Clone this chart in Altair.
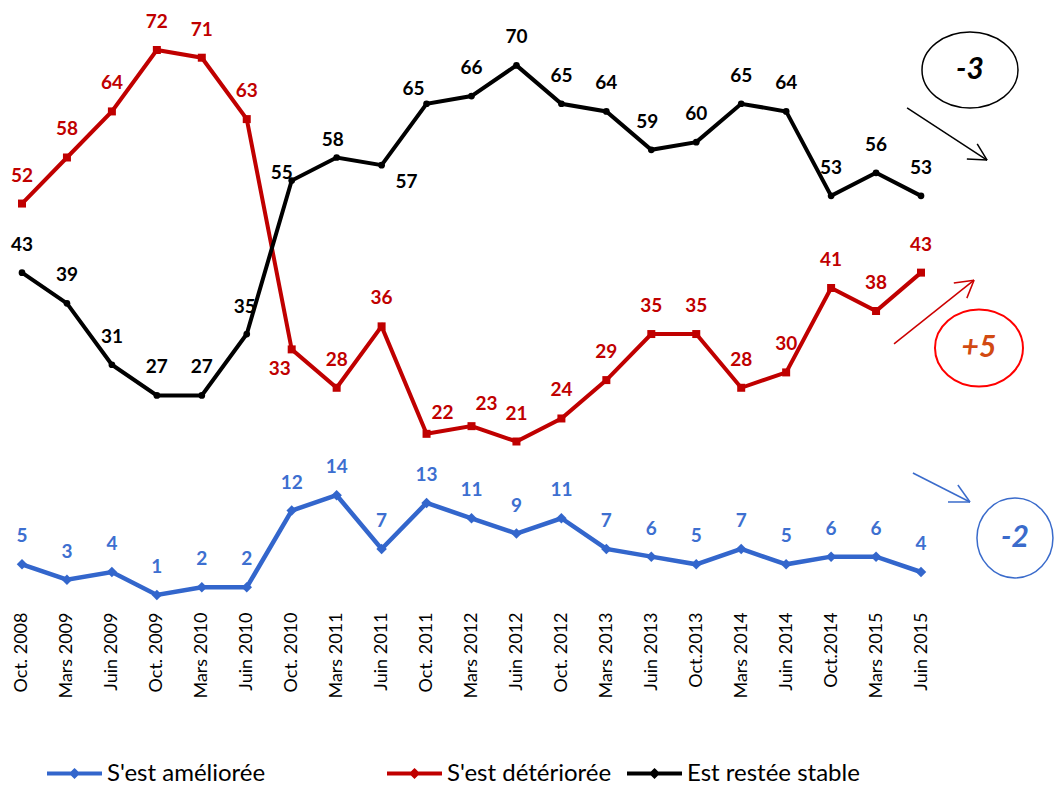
import json
import altair as alt
import pandas as pd

# ---------------- data ----------------
periods = ["Oct. 2008", "Mars 2009", "Juin 2009", "Oct. 2009", "Mars 2010", "Juin 2010",
           "Oct. 2010", "Mars 2011", "Juin 2011", "Oct. 2011", "Mars 2012", "Juin 2012",
           "Oct. 2012", "Mars 2013", "Juin 2013", "Oct.2013", "Mars 2014", "Juin 2014",
           "Oct.2014", "Mars 2015", "Juin 2015"]
ameliore = [5, 3, 4, 1, 2, 2, 12, 14, 7, 13, 11, 9, 11, 7, 6, 5, 7, 5, 6, 6, 4]
deteriore = [52, 58, 64, 72, 71, 63, 33, 28, 36, 22, 23, 21, 24, 29, 35, 35, 28, 30, 41, 38, 43]
stable = [43, 39, 31, 27, 27, 35, 55, 58, 57, 65, 66, 70, 65, 64, 59, 60, 65, 64, 53, 56, 53]
series_names = ["S'est améliorée", "S'est détériorée", "Est restée stable"]
series_keys = ["up", "down", "stable"]
series_values = [ameliore, deteriore, stable]

# ---------------- styles ----------------
LINE_COL = {"up": "#3366CC", "down": "#C00000", "stable": "#000000"}
TEXT_COL = {"up": "#3D6FD0", "down": "#C00000", "stable": "#000000"}
SHAPE = {"up": "diamond", "down": "square", "stable": "circle"}
MSIZE = {"up": 110, "down": 64, "stable": 45}
LWIDTH = {"up": 4.5, "down": 4, "stable": 4}
LEGEND_X = {"up": 37, "down": 377, "stable": 617}
FONT = "Lato"
DEFAULT_DY = -28
# label nudges (dx, dy) for labels that sit off the default spot
NUDGE = {("stable", 5): (-2, -27), ("stable", 6): (-10, -8), ("stable", 7): (-4, -17),
         ("stable", 8): (25, 17), ("stable", 9): (-13, -15), ("stable", 14): (-4, -28),
         ("down", 6): (-12, 20), ("down", 9): (16, -21), ("down", 10): (15, -22)}

rows = []
for key, name, vals in zip(series_keys, series_names, series_values):
    for i, v in enumerate(vals):
        rows.append({"key": key, "series": name, "idx": i, "value": v, "kid": f"{key}_{i}"})
df = pd.DataFrame(rows)

X_DOMAIN = [-0.31145, 22.981]
Y_DOMAIN = [-0.2996, 77.475]

label_expr = json.dumps(periods) + "[datum.value]"
X = alt.X("idx:Q",
          scale=alt.Scale(domain=X_DOMAIN, nice=False, zero=False),
          axis=alt.Axis(values=list(range(len(periods))), labelExpr=label_expr, title=None,
                        labelAngle=270, labelAlign="right", labelBaseline="middle",
                        labelFont=FONT, labelFontSize=18, labelColor="#000000",
                        labelPadding=7, domain=False, ticks=False, grid=False,
                        labelOverlap=False, labelFlush=False))
Y = alt.Y("value:Q", scale=alt.Scale(domain=Y_DOMAIN, nice=False, zero=False), axis=None)

layers = []
base = alt.Chart(df)
for key, name in zip(series_keys, series_names):
    sub = base.transform_filter(alt.FieldEqualPredicate(field="key", equal=key))
    legend = alt.Legend(title=None, orient="none", legendX=LEGEND_X[key], legendY=736,
                        symbolType="M-1,0H1M0,-0.1L0.1,0L0,0.1L-0.1,0Z", symbolSize=3025,
                        symbolStrokeWidth=4, labelFont=FONT, labelFontSize=24,
                        labelColor="#000000", labelOffset=3, padding=0, labelLimit=0)
    layers.append(sub.mark_line(strokeWidth=LWIDTH[key]).encode(
        x=X, y=Y,
        color=alt.Color("series:N", scale=alt.Scale(domain=[name], range=[LINE_COL[key]]),
                        legend=legend)))
for key in series_keys:
    sub = base.transform_filter(alt.FieldEqualPredicate(field="key", equal=key))
    layers.append(sub.mark_point(filled=True, shape=SHAPE[key], size=MSIZE[key],
                                 color=LINE_COL[key], opacity=1).encode(x=X, y=Y))

text_style = dict(font=FONT, fontSize=19, fontWeight="bold", align="center", baseline="middle")
nudged = [f"{k}_{i}" for (k, i) in NUDGE]
for key in series_keys:
    sub = base.transform_filter(alt.FieldEqualPredicate(field="key", equal=key)).transform_filter(
        "indexof(" + json.dumps(nudged) + ", datum.kid) < 0")
    layers.append(sub.mark_text(dy=DEFAULT_DY, color=TEXT_COL[key], **text_style).encode(
        x=X, y=Y, text="value:Q"))
for (key, i), (dx, dy) in NUDGE.items():
    sub = base.transform_filter(alt.FieldEqualPredicate(field="kid", equal=f"{key}_{i}"))
    layers.append(sub.mark_text(dx=dx, dy=dy, color=TEXT_COL[key], **text_style).encode(
        x=X, y=Y, text="value:Q"))

# ---------------- annotations: change since previous wave ----------------
changes = {k: vals[-1] - vals[-2] for k, vals in zip(series_keys, series_values)}
ANN = {
    "stable": dict(center=(21.09, 69.40), size=9216, ratio=0.79, stroke="#000000", sw=1.5,
                   text_col="#000000", arrow_col="#000000",
                   arrow=[(19.69, 64.45), (21.47, 57.67)], heads=[(21.02, 57.80), (21.25, 59.76)]),
    "down": dict(center=(21.29, 33.18), size=7744, ratio=0.875, stroke="#FF0000", sw=2,
                 text_col="#D24A12", arrow_col="#CC0000",
                 arrow=[(19.40, 33.71), (21.18, 42.02)], heads=[(20.73, 41.64), (21.02, 39.68)]),
    "up": dict(center=(22.09, 8.43), size=5776, ratio=1.05, stroke="#3A6BCB", sw=1.5,
               text_col="#3A6BCB", arrow_col="#3A6BCB",
               arrow=[(19.82, 16.90), (21.09, 13.12)], heads=[(20.60, 13.12), (20.82, 15.33)]),
}
X2 = alt.X2("idx2:Q")
Y2 = alt.Y2("value2:Q")
for key, a in ANN.items():
    r = a["ratio"]
    path = f"M -1 0 A 1 {r} 0 1 1 1 0 A 1 {r} 0 1 1 -1 0 Z"
    cdf = pd.DataFrame([{"idx": a["center"][0], "value": a["center"][1],
                         "label": f"{changes[key]:+d}"}])
    layers.append(alt.Chart(cdf).mark_point(shape=path, size=a["size"], filled=False,
                                            stroke=a["stroke"], strokeWidth=a["sw"],
                                            opacity=1).encode(x=X, y=Y))
    layers.append(alt.Chart(cdf).mark_text(font=FONT, fontSize=30, fontWeight="bold",
                                           fontStyle="italic", color=a["text_col"],
                                           align="center", baseline="middle").encode(
        x=X, y=Y, text="label:N"))
    (x0, y0), (x1, y1) = a["arrow"]
    segs = [{"idx": x0, "value": y0, "idx2": x1, "value2": y1}]
    for hx, hy in a["heads"]:
        segs.append({"idx": x1, "value": y1, "idx2": hx, "value2": hy})
    layers.append(alt.Chart(pd.DataFrame(segs)).mark_rule(
        color=a["arrow_col"], strokeWidth=1.5).encode(x=X, y=Y, x2=X2, y2=Y2))

chart = alt.layer(*layers).resolve_scale(color="independent").properties(
    width=1047, height=597,
    autosize=alt.AutoSizeParams(type="none"),
    padding={"left": 0, "top": 0, "right": 0, "bottom": 188},
).configure_view(stroke=None)

chart.save("out.html", embed_options={"renderer": "svg", "actions": False})
